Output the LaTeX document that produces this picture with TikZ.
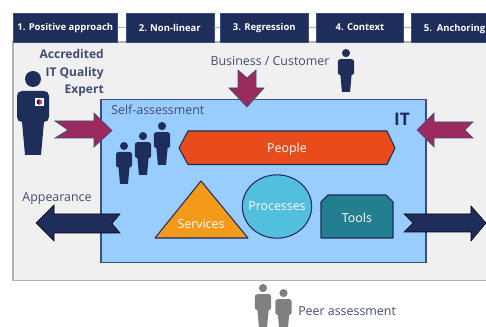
\documentclass[tikz,border=0pt]{standalone}
\usepackage{fontspec}
\usetikzlibrary{shapes.geometric}
\setmainfont{Open Sans}
\definecolor{navy}{HTML}{1F2D5A}
\definecolor{edge}{HTML}{3B4F7D}
\definecolor{maroon}{HTML}{9B2B5E}
\definecolor{itblue}{HTML}{99CCFF}
\definecolor{peoplered}{HTML}{E84C1A}
\definecolor{serviceorange}{HTML}{F49A1A}
\definecolor{processblue}{HTML}{52BFDF}
\definecolor{toolteal}{HTML}{237F8F}
\tikzset{person/.pic={
\fill[pic actions] (0,8) circle (8);
\fill[pic actions] (-11,20) -- (11,20) .. controls (14,20) and (16,22) .. (16,25) -- (16,46) .. controls (16,49) and (14,51) .. (11,51)
 -- (8,84) -- (-8,84) -- (-11,51) .. controls (-14,51) and (-16,49) .. (-16,46) -- (-16,25) .. controls (-16,22) and (-14,20) .. (-11,20) -- cycle;
}}
\begin{document}
\begin{tikzpicture}[x=0.75pt,y=-0.75pt,font=\fontsize{9.3}{11}\selectfont,
headbox/.style={draw=edge,fill=navy,text=white,font=\fontsize{7.1}{9}\selectfont\bfseries,inner sep=0pt,minimum height=21.5pt,anchor=north west},
textlabel/.style={text=navy!85,inner sep=0pt},
inlabel/.style={text=white,inner sep=0pt},
shapeline/.style={draw=navy,line width=0.8pt,line join=round},
redarrow/.style={draw=edge,fill=maroon,line width=0.5pt},
darkarrow/.style={fill=navy}]
\useasboundingbox (0,0) rectangle (486,327);
\draw[draw=black!30,fill=black!6,line width=0.9pt] (13,42) rectangle (490,280.5);
\node[headbox,minimum width=78pt] (head1) at (13,13) {1. Positive approach};
\node[headbox,minimum width=66pt] (head2) at (125.5,13) {2. Non-linear};
\node[headbox,minimum width=66pt] (head3) at (220,13) {3. Regression};
\node[headbox,minimum width=65.5pt] (head4) at (316,13) {4. Context};
\node[headbox,minimum width=65pt,text width=58pt,align=left,text depth=0pt] (head5) at (411,13) {\hspace*{6pt}5. Anchoring};
\foreach \a/\b in {head1/head2,head2/head3,head3/head4,head4/head5}
\draw[black!30,line width=0.6pt] (\a) -- (\b);
\draw[draw=edge,fill=itblue,line width=0.9pt] (101,99.5) rectangle (426,262.5);
\node[textlabel,font=\fontsize{9}{10}\selectfont\bfseries,align=right,anchor=east] (expert) at (104,73) {Accredited\\[3.2pt]IT Quality\\[3.2pt]Expert};
\pic[fill=navy,scale=1] (bigman) at (33,71) {person};
\node[fill=white,inner sep=0pt,minimum size=6.6pt] (badge) at (39.5,102) {};
\fill[blue!60!black] (badge.center) ++(0,2.8) arc (90:270:2.8);
\fill[peoplered] (badge.center) ++(0,-2.8) arc (-90:90:2.8);
\node[textlabel] (business) at (270,61) {Business / Customer};
\pic[fill=navy,scale=0.51] (custman) at (346,49) {person};
\node[textlabel,anchor=west] (selfa) at (111,110) {Self-assessment};
\node[text=navy,font=\fontsize{13}{14}\selectfont\bfseries,inner sep=0pt] (it) at (402,119) {IT};
\node[textlabel] (appear) at (57,198.5) {Appearance};
\pic[fill=navy,scale=0.5] (man1) at (124,142) {person};
\pic[fill=navy,scale=0.51] (man2) at (143,132) {person};
\pic[fill=navy,scale=0.51] (man3) at (162,122) {person};
\draw[redarrow] (55,121) -- (94,121) -- (94,113) -- (112,130.5) -- (94,147) -- (94,138) -- (55,138) -- (68,130) -- cycle;
\draw[redarrow] (473,122) -- (434,122) -- (434,113) -- (417,130) -- (434,147) -- (434,138) -- (473,138) -- (465,130) -- cycle;
\draw[redarrow] (238,70) -- (247,78) -- (256,70) -- (256,88) -- (264,88) -- (247,107) -- (229,88) -- (238,88) -- cycle;
\draw[shapeline,fill=peoplered] (179,148) -- (188,131) -- (387,131) -- (395,148) -- (387,164.5) -- (188,164.5) -- cycle;
\node[inlabel] (people) at (287,149) {People};
\draw[shapeline,fill=serviceorange] (201,181) -- (248,238) -- (155,238) -- cycle;
\node[inlabel] (services) at (201,224) {Services};
\node[ellipse,shapeline,fill=processblue,minimum width=52pt,minimum height=47.5pt,inner xsep=-5pt,inner ysep=0pt,text=white] (processes) at (277,206.5) {Processes};
\draw[shapeline,fill=toolteal] (328,195) -- (386,195) -- (393,202) -- (393,238) -- (321,238) -- (321,202) -- cycle;
\node[inlabel] (tools) at (357,218) {Tools};
\draw[darkarrow] (120,214) -- (54,214) -- (54,205) -- (36,223) -- (54,241) -- (54,233) -- (120,233) -- (112,223.5) -- cycle;
\draw[darkarrow] (404,214) -- (471,214) -- (471,206) -- (486,223) -- (471,241) -- (471,232) -- (404,232) -- (413,223) -- cycle;
\pic[fill=black!50,scale=0.51] (peer1) at (263,284) {person};
\pic[fill=black!50,scale=0.51] (peer2) at (283.5,289) {person};
\node[textlabel,anchor=west] (peer) at (298,311) {Peer assessment};
\end{tikzpicture}
\end{document}
